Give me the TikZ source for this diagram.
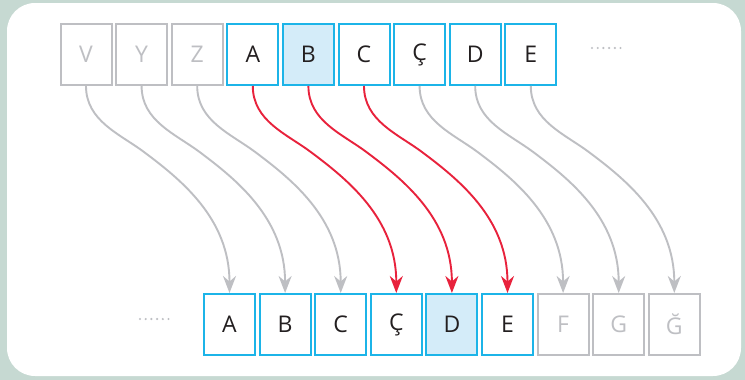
\documentclass[tikz,border=0pt]{standalone}
\usepackage{fontspec}
\setmainfont{Open Sans}
\usetikzlibrary{arrows.meta,calc}
\definecolor{cyanb}{HTML}{1CB4E8}
\definecolor{lightb}{HTML}{D4ECF9}
\definecolor{grayl}{HTML}{BEBFC3}
\definecolor{redl}{HTML}{E8223C}
\definecolor{txt}{HTML}{231F20}
\definecolor{bgout}{HTML}{C6D9D2}
\tikzset{
  cell/.style={draw=cyanb, line width=2pt, minimum width=51pt, minimum height=61pt, inner sep=0pt, font=\fontsize{23}{23}\selectfont, text=txt},
  hcell/.style={cell, fill=lightb},
  gcell/.style={cell, draw=grayl, text=grayl},
  tipstyle/.tip={Stealth[length=17pt,width=13pt,inset=5.5pt]},
  garrow/.style={draw=grayl, line width=1.9pt, -tipstyle},
  rarrow/.style={garrow, draw=redl},
  dotc/.style={fill=grayl, draw=none}
}
\begin{document}
\begin{tikzpicture}[x=1pt,y=-1pt]
\useasboundingbox (0,0) rectangle (745,380);
\fill[bgout] (0,0) rectangle (745,380);
\fill[white, rounded corners=28pt] (7,3) rectangle (741,376);
% top row
\foreach \l/\s [count=\i] in {V/gcell,Y/gcell,Z/gcell,A/cell,B/hcell,C/cell,Ç/cell,D/cell,E/cell}{
  \node[\s] (t\i) at ({86+55.6*(\i-1)},54.5) {\l};
}
% bottom row
\foreach \l/\s [count=\i] in {A/cell,B/cell,C/cell,Ç/cell,D/hcell,E/cell,F/gcell,G/gcell,Ğ/gcell}{
  \node[\s] (b\i) at ({229.5+55.6*(\i-1)},324.5) {\l};
}
% bend points
\foreach \i in {1,...,9}{
  \coordinate (m\i) at ($(t\i.south)+(58,66)$);
}
% arrows
\foreach \i/\st in {1/garrow,2/garrow,3/garrow,7/garrow,8/garrow,9/garrow,4/rarrow,5/rarrow,6/rarrow}{
  \draw[\st] (t\i.south) .. controls +(0,35) and +(-24,-18) .. (m\i)
     .. controls +(36,27) and +(0,-75) .. (b\i.north);
}
% dots
\foreach \k in {0,...,5}{
  \fill[dotc] ({592+5.7*\k},48) circle (1.2);
  \fill[dotc] ({140+5.7*\k},319) circle (1.2);
}
\end{tikzpicture}
\end{document}
